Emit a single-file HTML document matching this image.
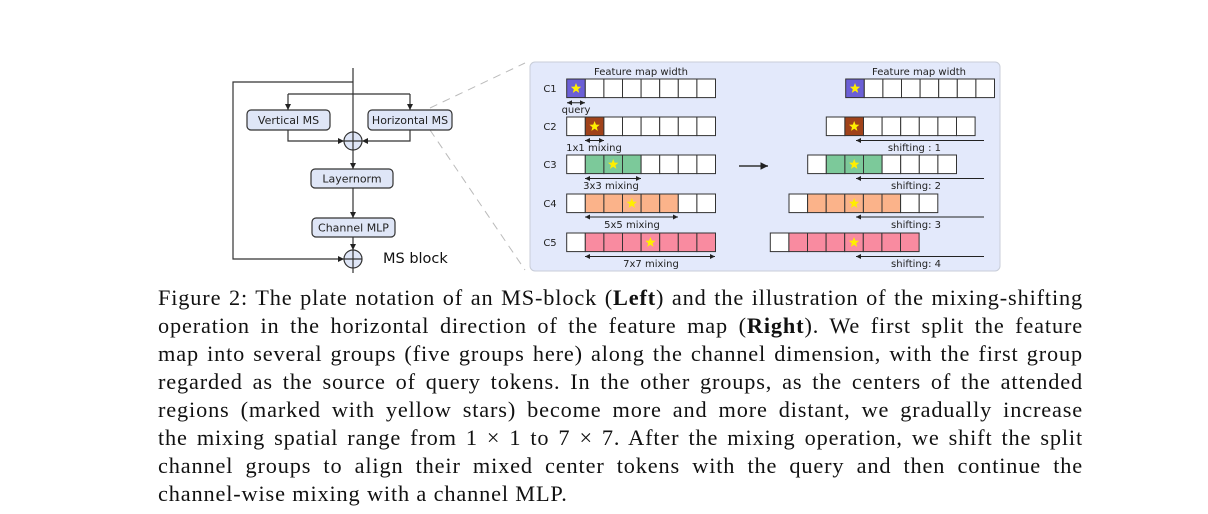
<!DOCTYPE html>
<html><head><meta charset="utf-8"><style>
body{margin:0;background:#fff;width:1208px;height:514px;overflow:hidden;position:relative}
svg{position:absolute;left:0;top:0}
.cap{position:absolute;left:158px;width:925px;font-family:"Liberation Serif",serif;font-size:22.3px;letter-spacing:0.85px;line-height:28px;text-align:justify;text-align-last:justify;white-space:nowrap;color:#111}
.s{font-family:"DejaVu Sans",sans-serif;font-size:10px;fill:#222}
</style></head><body>
<svg id="g" width="1208" height="514" viewBox="0 0 1208 514">
<defs><marker id="a" markerWidth="6" markerHeight="6" refX="5" refY="3" orient="auto"><path d="M0,0.5L5,3L0,5.5z" fill="#222"/></marker>
<marker id="b" markerWidth="6" markerHeight="6" refX="1" refY="3" orient="auto"><path d="M6,0.5L1,3L6,5.5z" fill="#222"/></marker></defs>
<g stroke="#bbb" stroke-dasharray="8,6" fill="none"><path d="M430,108L525,63"/><path d="M430,130L525,270"/></g>
<rect x="530" y="62" width="470" height="209" rx="5" fill="#e3e9fb" stroke="#c8cdd8"/>
<g stroke="#333" stroke-width="1.2" fill="none">
<path d="M353,68V150"/><path d="M353,82H233V259H344" marker-end="url(#a)"/>
<path d="M288,94H410"/><path d="M288,94V110" marker-end="url(#a)"/><path d="M410,94V110" marker-end="url(#a)"/>
<path d="M288,130V141H344" marker-end="url(#a)"/><path d="M410,130V141H362" marker-end="url(#a)"/>
<path d="M353,150V169" marker-end="url(#a)"/><path d="M353,188V218" marker-end="url(#a)"/><path d="M353,237V250" marker-end="url(#a)"/><path d="M353,250V273"/>
</g>
<g stroke="#333" stroke-width="1.2" fill="#dfe6f7">
<rect x="247" y="110" width="83" height="20" rx="4"/><rect x="368" y="110" width="84" height="20" rx="4"/>
<rect x="311" y="169" width="82" height="19" rx="4"/><rect x="312" y="218" width="83" height="19" rx="4"/>
<circle cx="353" cy="141" r="9"/><circle cx="353" cy="259" r="9"/>
<path d="M344,141H362M353,132V150M344,259H362M353,250V268" fill="none"/>
</g>
<g font-family="DejaVu Sans,sans-serif" font-size="11" fill="#222" text-anchor="middle">
<text x="288.5" y="124">Vertical MS</text><text x="410" y="124">Horizontal MS</text>
<text x="352" y="182.5">Layernorm</text><text x="353.5" y="231.5">Channel MLP</text>
</g>
<text x="383" y="263" font-family="DejaVu Sans,sans-serif" font-size="14.5" fill="#111">MS block</text>
<g id="cells"></g>
<g class="s" text-anchor="middle">
<text x="641" y="75">Feature map width</text><text x="919" y="75">Feature map width</text>
<text x="550" y="92">C1</text><text x="550" y="130">C2</text><text x="550" y="168">C3</text><text x="550" y="207">C4</text><text x="550" y="246">C5</text>
<text x="576" y="113">query</text><text x="594" y="151">1x1 mixing</text><text x="611" y="189">3x3 mixing</text><text x="632" y="228">5x5 mixing</text><text x="651" y="267">7x7 mixing</text>
</g>
<g class="s" text-anchor="end">
<text x="941" y="151">shifting : 1</text><text x="941" y="189">shifting: 2</text><text x="941" y="228">shifting: 3</text><text x="941" y="267">shifting: 4</text>
</g>
<path d="M739,166H768" stroke="#333" stroke-width="1.5" marker-end="url(#a)"/>
</svg>
<div class="cap" style="top:284px">Figure 2: The plate notation of an MS-block (<b>Left</b>) and the illustration of the mixing-shifting</div>
<div class="cap" style="top:312px">operation in the horizontal direction of the feature map (<b>Right</b>). We first split the feature</div>
<div class="cap" style="top:340px">map into several groups (five groups here) along the channel dimension, with the first group</div>
<div class="cap" style="top:368px">regarded as the source of query tokens. In the other groups, as the centers of the attended</div>
<div class="cap" style="top:396px">regions (marked with yellow stars) become more and more distant, we gradually increase</div>
<div class="cap" style="top:424px">the mixing spatial range from 1 × 1 to 7 × 7. After the mixing operation, we shift the split</div>
<div class="cap" style="top:452px">channel groups to align their mixed center tokens with the query and then continue the</div>
<div class="cap" style="top:480px;text-align:left;text-align-last:left">channel-wise mixing with a channel MLP.</div>
<script>
var ns="http://www.w3.org/2000/svg",g=document.getElementById("cells");
function el(t,a){var e=document.createElementNS(ns,t);for(var k in a)e.setAttribute(k,a[k]);g.appendChild(e);return e}
function star(cx,cy){var p=[];for(var i=0;i<10;i++){var r=i%2?2.3:5.5,an=-Math.PI/2+i*Math.PI/5;p.push((cx+r*Math.cos(an)).toFixed(1)+","+(cy+r*Math.sin(an)).toFixed(1))}el("polygon",{points:p.join(" "),fill:"#ffee00"})}
var w=18.6,ys=[79,117,155,194,233],cols=["#6b5fd6","#a0421a","#7cc99a","#fbb38a","#f98ba0"];
var rng=[[0,0],[1,1],[1,3],[1,5],[1,7]],sc=[0,1,2,3,4];
var rx=[845.7,826.3,807.7,789,770.3];
for(var r=0;r<5;r++){
 [566.7,rx[r]].forEach(function(x0){
  for(var i=0;i<8;i++){var f=(i>=rng[r][0]&&i<=rng[r][1])?cols[r]:"#fff";
   el("rect",{x:x0+i*w,y:ys[r],width:w,height:18.6,fill:f,stroke:"#333","stroke-width":1});}
  star(x0+sc[r]*w+w/2,ys[r]+9.5);
 });
}
var ay=[102.7,140.5,178.5,217,256.5],ax=[[567,585],[585,604],[585,641],[585,678],[585,715]];
for(var r=0;r<5;r++){el("path",{d:"M"+ax[r][0]+","+ay[r]+"H"+ax[r][1],stroke:"#222","stroke-width":1,"marker-end":"url(#a)","marker-start":"url(#b)"});
 if(r>0)el("path",{d:"M984,"+ay[r]+"H856",stroke:"#222","stroke-width":1,"marker-end":"url(#a)"});}
</script>
</body></html>
